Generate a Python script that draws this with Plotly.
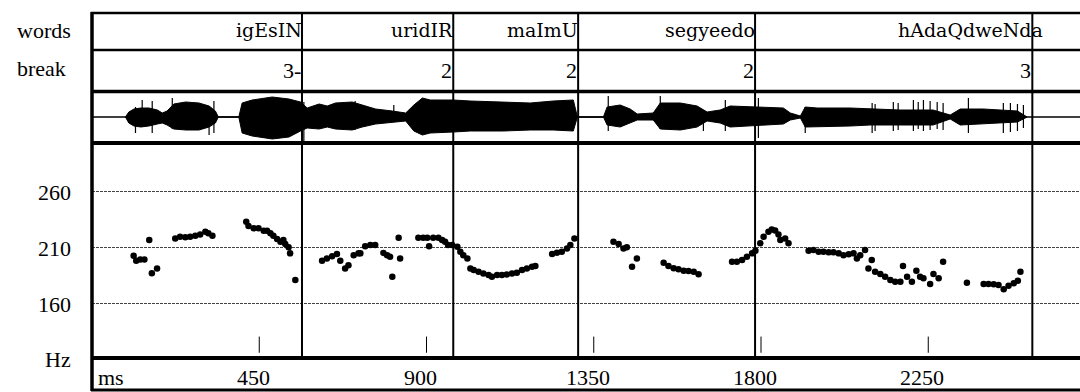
import plotly.graph_objects as go

W, H = 1080, 392

# ---------------- data ----------------
words = ["igEsIN", "uridIR", "maImU", "segyeedo", "hAdaQdweNda"]
word_ends_ms = [565, 972, 1308, 1784, 2530]
break_labels = ["3-", "2", "2", "2", "3"]

time_ticks = [450, 900, 1350, 1800, 2250]
hz_ticks = [160, 210, 260]

pitch_ms = [112, 119, 130, 141, 154, 161, 175, 224, 237, 251, 264, 278, 291, 305, 313, 324,
            415, 421, 435, 448, 462, 471, 480, 488, 498, 507, 515, 520, 529, 533, 547,
            619, 632, 646, 659, 668, 681, 690, 704, 717, 722, 735, 749, 762, 784, 794, 802, 808,
            825, 829, 878, 891, 902, 907, 918, 932, 942, 950, 958, 969,
            983, 991, 999, 1010, 1018, 1027, 1040, 1053, 1067, 1076, 1090, 1103, 1116, 1130,
            1143, 1157, 1170, 1184, 1193, 1238, 1251, 1264, 1278, 1287, 1298,
            1403, 1417, 1430, 1439, 1453, 1466, 1538, 1551, 1565, 1578, 1592, 1605, 1619, 1632,
            1722, 1735, 1749, 1762, 1776, 1785,
            1798, 1807, 1820, 1829, 1838, 1847, 1852, 1865, 1874,
            1928, 1941, 1955, 1968, 1982, 1995, 2009, 2022, 2036, 2049, 2058, 2067, 2080,
            2089, 2098, 2107, 2121, 2134, 2148, 2161, 2175, 2182, 2193, 2206, 2218, 2228, 2237,
            2255, 2264, 2278, 2290, 2354,
            2399, 2412, 2426, 2439, 2453, 2466, 2480, 2491, 2498]
pitch_hz = [202.5, 198, 199, 199, 216.5, 186.7, 191, 218, 219.5, 219, 219.5, 220.4, 221.6, 224, 222.5, 220.4,
            233, 229, 227, 227, 224.9, 224.9, 222.5, 220.4, 217.4, 215, 216.5, 213, 210, 204.6, 180.6,
            198, 200, 202, 204, 198, 191, 194, 203, 204.6, 204.6, 211, 212, 212, 205, 203, 201.6, 183.7,
            218.6, 200, 218.6, 218.6, 218.6, 211, 218.6, 218.6, 216.5, 215, 212, 212,
            210.5, 206, 203, 200, 191, 189.7, 188.1, 186.6, 185.1, 183.6, 185.1, 185.1, 185.7, 186.6,
            187.2, 189.7, 191, 192.6, 193.2, 204, 205.2, 206, 209, 212, 218,
            215, 213, 209, 210, 192.6, 200, 196.2, 193.2, 191.2, 190.3, 189, 188.8, 188.1, 185.8,
            197, 197, 198.6, 201.6, 204.6, 207,
            213.6, 219.5, 224, 226, 225, 221.6, 216.5, 218, 213.6,
            207, 207.6, 206, 206, 205.5, 205.5, 204.6, 203, 203.7, 204.6, 200, 203, 207.6,
            191, 198.6, 188, 186, 183.7, 180.7, 179.2, 179.2, 193.2, 183.7, 179.2, 189, 183.7, 182.2,
            177.1, 186, 182.2, 197, 178.3,
            177.1, 177.1, 176.8, 176.2, 172.4, 175.6, 177.8, 180.1, 188]

# waveform envelope (amplitude above / below the zero line, arbitrary units)
wave_ms = [90, 99, 113, 131, 153, 176, 189, 202, 220, 252, 288, 315, 332, 340, 395, 404, 431, 485,
           530, 561, 579, 611, 633, 655, 700, 727, 763, 808, 844, 866, 889, 910, 972, 1018, 1107,
           1179, 1241, 1295, 1306, 1376, 1386, 1421, 1448, 1467, 1510, 1529, 1583, 1628, 1655, 1690,
           1717, 1771, 1860, 1879, 1906, 1919, 1951, 2040, 2094, 2175, 2263, 2309, 2336, 2398, 2490, 2516]
wave_up = [0, 5, 8, 9, 9, 7, 4, 6, 13, 15, 14, 11, 6, 0, 0, 14, 17, 20, 18, 15, 9, 13, 11, 14, 15,
           12, 8, 6, 4, 12, 19, 17, 17, 16, 15, 14, 16, 17, 0, 0, 10, 12, 8, 3, 4, 14, 14, 11, 5, 7,
           11, 10, 9, 4, 1, 10, 9, 9, 8, 7, 7, 2, 8, 8, 6, 0]
wave_down = [0, 6, 9, 10, 9, 7, 6, 8, 12, 13, 13, 10, 6, 0, 0, 16, 19, 22, 20, 14, 11, 12, 10, 12,
             13, 10, 7, 5, 4, 14, 18, 16, 15, 14, 14, 13, 13, 14, 0, 0, 8, 10, 6, 3, 3, 12, 13, 10,
             4, 6, 10, 9, 7, 3, 1, 10, 10, 9, 8, 8, 8, 2, 8, 7, 5, 0]

spike_ms = [117, 135, 162, 216, 315, 328, 570, 708, 812, 871, 1389, 1529, 1645, 1704, 1793, 1919,
            2099, 2107, 2156, 2169, 2210, 2223, 2237, 2255, 2274, 2290, 2358, 2452, 2471, 2490, 2506]
spike_up = [10, 17, 16, 19, 11, 16, 15, 16, 12, 12, 21, 21, 5, 17, 19, 10,
            14, 13, 15, 14, 17, 15, 17, 16, 15, 14, 19, 14, 14, 13, 12]
spike_down = [16, 10, 16, 12, 18, 16, 24, 13, 5, 14, 14, 12, 14, 14, 21, 16,
              16, 14, 14, 13, 14, 12, 14, 13, 12, 13, 16, 16, 15, 14, 11]

# ---------------- geometry / style ----------------
PX_PER_MS = 0.37167
X0_PX = 92
TOP, WB, BW, WP, PM, BOT = 13, 50, 91.5, 143, 358, 390
HZ_LO, HZ_HI = 110.8, 303.5


def px(p):
    return p / W


def py(p):
    return 1 - p / H


serif = "Liberation Serif"
tier_font = dict(family="DejaVu Serif", size=19, color="black")
lab_font = dict(family=serif, size=22, color="black")

fig = go.Figure()

# waveform
fig.add_trace(go.Scatter(
    x=wave_ms + wave_ms[::-1],
    y=wave_up + [-d for d in wave_down[::-1]],
    fill="toself", fillcolor="black", mode="lines",
    line=dict(color="black", width=1), xaxis="x", yaxis="y2", hoverinfo="skip"))
sx, sy = [], []
for t, u, d in zip(spike_ms, spike_up, spike_down):
    sx += [t, t, None]
    sy += [u, -d, None]
fig.add_trace(go.Scatter(x=sx, y=sy, mode="lines", line=dict(color="black", width=1.2),
                         xaxis="x", yaxis="y2", hoverinfo="skip"))

# pitch
fig.add_trace(go.Scatter(x=pitch_ms, y=pitch_hz, mode="markers",
                         marker=dict(color="black", size=6.5), xaxis="x", yaxis="y"))

shapes = []
# frame lines
for yy, w in [(TOP, 2.5), (WB, 2.5), (BW, 3.5), (WP, 4), (PM, 4), (BOT, 3)]:
    shapes.append(dict(type="line", xref="paper", yref="paper", x0=px(X0_PX - 1), x1=1,
                       y0=py(yy), y1=py(yy), line=dict(color="black", width=w)))
shapes.append(dict(type="line", xref="paper", yref="paper", x0=px(X0_PX), x1=px(X0_PX),
                   y0=py(TOP - 1), y1=py(BOT + 1), line=dict(color="black", width=3.5)))
# waveform zero line
shapes.append(dict(type="line", xref="paper", yref="y2", x0=px(X0_PX), x1=1, y0=0, y1=0,
                   line=dict(color="black", width=1.5)))
# word boundaries
for t in word_ends_ms:
    shapes.append(dict(type="line", xref="x", yref="paper", x0=t, x1=t,
                       y0=py(PM), y1=py(TOP), line=dict(color="black", width=2)))
# time ticks inside pitch panel
for t in time_ticks:
    shapes.append(dict(type="line", xref="x", yref="y", x0=t, x1=t, y0=115.5, y1=130,
                       line=dict(color="black", width=1)))

ann = []
ann.append(dict(text="words", x=px(15), y=py(30), xref="paper", yref="paper",
                xanchor="left", yanchor="middle", showarrow=False, font=lab_font))
ann.append(dict(text="break", x=px(15), y=py(69), xref="paper", yref="paper",
                xanchor="left", yanchor="middle", showarrow=False, font=lab_font))
for v in hz_ticks:
    ann.append(dict(text=str(v), x=px(73), y=v, xref="paper", yref="y", yshift=-1,
                    xanchor="right", yanchor="middle", showarrow=False, font=lab_font))
ann.append(dict(text="Hz", x=px(73), y=py(359), xref="paper", yref="paper",
                xanchor="right", yanchor="middle", showarrow=False, font=lab_font))
ann.append(dict(text="ms", x=px(96), y=py(377), xref="paper", yref="paper",
                xanchor="left", yanchor="middle", showarrow=False, font=lab_font))
for t in time_ticks:
    ann.append(dict(text=str(t), x=t, y=py(377), xref="x", yref="paper", xshift=-6,
                    xanchor="center", yanchor="middle", showarrow=False, font=lab_font))
word_shift = {"hAdaQdweNda": 13}
for wd, t in zip(words, word_ends_ms):
    ann.append(dict(text=wd, x=t, y=py(30), xref="x", yref="paper",
                    xshift=word_shift.get(wd, 2), xanchor="right", yanchor="middle",
                    showarrow=False, font=tier_font))
for b, t in zip(break_labels, word_ends_ms):
    ann.append(dict(text=b, x=t, y=py(70), xref="x", yref="paper", xshift=1,
                    xanchor="right", yanchor="middle", showarrow=False,
                    font=dict(family=serif, size=22, color="black")))

fig.update_layout(
    width=W, height=H, margin=dict(l=0, r=0, t=0, b=0),
    paper_bgcolor="white", plot_bgcolor="white", showlegend=False,
    xaxis=dict(domain=[px(X0_PX), 1], range=[0, (W - X0_PX) / PX_PER_MS],
               showgrid=False, zeroline=False, showticklabels=False, ticks="", showline=False),
    yaxis=dict(domain=[py(PM), py(WP)], range=[HZ_LO, HZ_HI], tickvals=hz_ticks,
               showgrid=True, gridcolor="#444", gridwidth=1, griddash="3px,1px",
               zeroline=False, showticklabels=False, ticks="", showline=False),
    yaxis2=dict(domain=[py(WP), py(BW)], range=[-26, 25.5], showgrid=False, zeroline=False,
                showticklabels=False, ticks="", showline=False),
    shapes=shapes, annotations=ann,
)

fig.write_html("out.html", config={"displayModeBar": False},
               post_script="document.body.style.margin='0';document.body.style.overflow='hidden';")
